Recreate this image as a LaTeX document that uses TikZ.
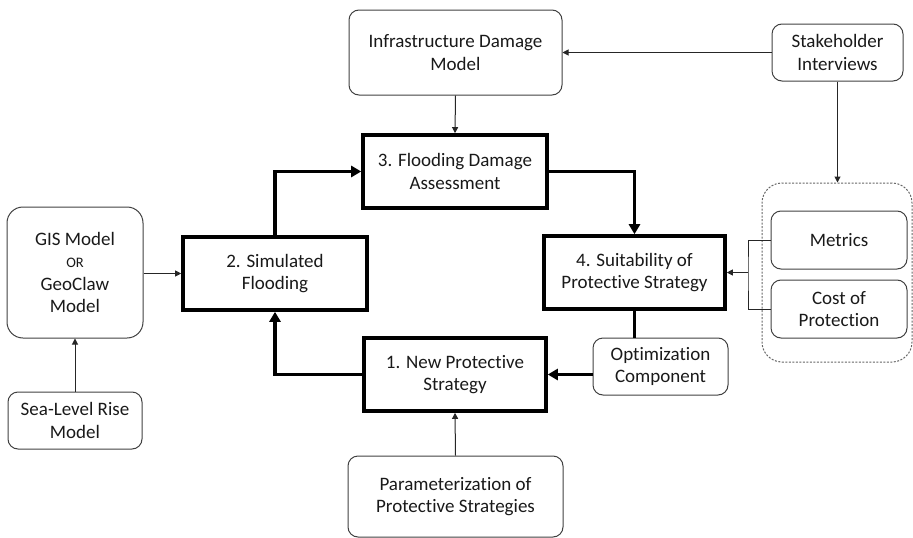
\documentclass[tikz,border=0pt]{standalone}
\usepackage{fontspec}
\setmainfont{Carlito}[Ligatures=NoCommon]
\usetikzlibrary{arrows.meta}
\begin{document}
\begin{tikzpicture}[x=1pt,y=-1pt,
 base/.style={draw=black!75, line width=1pt, align=center, inner sep=0pt, font=\fontsize{19}{22.5}\selectfont, text=black!90},
 rbox/.style={base, rounded corners=10pt},
 tbox/.style={base, draw=black, line width=3.6pt},
 thinarr/.style={draw=black!85, line width=1pt, -{Triangle[length=6pt,width=6pt]}},
 thickarr/.style={draw=black, line width=3.2pt, -{Triangle[length=10pt,width=11pt]}},
 thickline/.style={draw=black, line width=3.2pt},
 thinline/.style={draw=black!85, line width=1pt},
]
\useasboundingbox (0,0) rectangle (913,538);

% rounded boxes
\node[rbox, minimum width=213pt, minimum height=85pt] (infra) at (455.5,52.5) {Infrastructure Damage\\Model};
\node[rbox, minimum width=131pt, minimum height=57pt] (stake) at (837.5,52.5) {Stakeholder\\Interviews};
\node[rbox, rounded corners=16pt, minimum width=136pt, minimum height=131pt] (gis) at (75,272.5) {GIS Model\\{\fontsize{14.5}{22.5}\selectfont OR}\\GeoClaw\\Model};
\node[rbox, minimum width=134pt, minimum height=57pt] (sea) at (75,420.5) {Sea-Level Rise\\Model};
\node[rbox, minimum width=215pt, minimum height=81pt] (param) at (455.5,496.5) {Parameterization of\\Protective Strategies};
\node[rbox, minimum width=135pt, minimum height=57pt] (opt) at (660.5,366.5) {Optimization\\Component};

% dashed container
\node[draw=black!60, line width=1pt, dash pattern=on 2pt off 1.5pt, rounded corners=20pt, minimum width=150pt, minimum height=179pt, inner sep=0pt] (grp) at (837,272.5) {};
\node[rbox, minimum width=136pt, minimum height=58pt] (metrics) at (839,240) {Metrics};
\node[rbox, minimum width=136pt, minimum height=58pt] (cost) at (839,309) {Cost of\\Protection};

% thick boxes
\node[tbox, minimum width=184pt, minimum height=73pt] (fda) at (455,171.5) {3. Flooding Damage\\Assessment};
\node[tbox, minimum width=184pt, minimum height=73pt] (sim) at (275,273.5) {2. Simulated\\Flooding};
\node[tbox, minimum width=181pt, minimum height=73pt] (suit) at (634.5,272.5) {4. Suitability of\\Protective Strategy};
\node[tbox, minimum width=182pt, minimum height=73pt] (newp) at (455,374.5) {1. New Protective\\Strategy};

\coordinate (brk) at (748,272.5);

% thin connectors
\draw[thinarr] (stake.west) -- (infra.east);
\draw[thinarr] (infra.south) -- (fda.north);
\draw[thinarr] (stake.south) -- (grp.north -| stake.south);
\draw[thinarr] (gis.east |- sim.west) -- (sim.west);
\draw[thinarr] (sea.north) -- (gis.south);
\draw[thinarr] (param.north) -- (newp.south);
\draw[thinline] (metrics.west) -| (brk) |- (cost.west);
\draw[thinarr] (brk) -- (suit.east);

% thick connectors
\draw[thickarr] (sim.north) |- (fda.west);
\draw[thickarr] (fda.east) -| (suit.north);
\draw[thickline] (suit.south) -- (suit.south |- opt.north);
\draw[thickarr] (opt.west |- newp.east) -- (newp.east);
\draw[thickarr] (newp.west) -| (sim.south);
\end{tikzpicture}
\end{document}
